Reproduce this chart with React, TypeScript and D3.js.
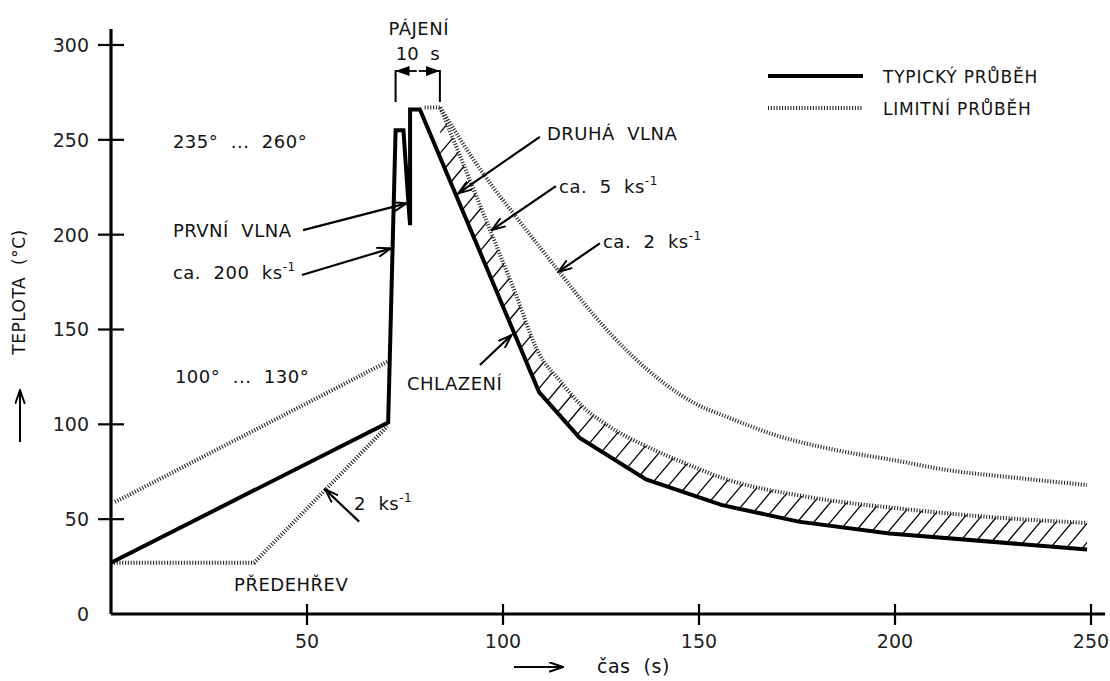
import * as d3 from "d3";

const W = 1110,
  H = 681;

// [time s, temperature °C]
const typical: [number, number][] = [
  [0, 27], [70.7, 101], [72.6, 255], [74.6, 255], [76.1, 210], [76.3, 205],
  [76.3, 266], [78.8, 266], [109.2, 117], [119.5, 93], [136.5, 71],
  [155.7, 57.5], [175.4, 48.7], [198.6, 42.5], [249, 34],
];
const coolingStart = 7; // index where the cooling part begins

const limitPreheatUpper: [number, number][] = [[1, 59], [70.5, 133]];
const limitPreheatLower: [number, number][] = [[0, 27], [36.5, 27], [70.5, 99]];
const limitTop: [number, number][] = [[80, 267], [84, 267]];
const limitCoolInner: [number, number][] = [
  [84, 267], [96, 206], [103, 170], [109, 138], [114.5, 123], [120, 110],
  [127, 99], [137, 88], [147, 79], [157, 71], [177, 62], [204, 55],
  [225, 51], [249, 48],
];
const limitCoolOuter: [number, number][] = [
  [84, 267], [95, 232], [105, 205], [114.5, 180], [123, 158], [133, 136],
  [149, 111], [157, 104], [170, 94], [186, 86], [200, 81], [213, 76],
  [230, 72], [249, 68],
];

const xTicks = [50, 100, 150, 200, 250];
const yTicks = [0, 50, 100, 150, 200, 250, 300];

// annotations in data units
const notes = [
  { text: "235°  ...  260°", t: 15.8, v: 245.6 },
  { text: "PRVNÍ  VLNA", t: 15.8, v: 198.7 },
  { text: "ca.  200  ks", sup: "-1", t: 15.8, v: 176.6 },
  { text: "100°  ...  130°", t: 16.3, v: 121.8 },
  { text: "PŘEDEHŘEV", t: 31.4, v: 12.1 },
  { text: "2  ks", sup: "-1", t: 62, v: 54.8 },
  { text: "CHLAZENÍ", t: 75.5, v: 118.1 },
  { text: "DRUHÁ  VLNA", t: 111.2, v: 249.9 },
  { text: "ca.  5  ks", sup: "-1", t: 114.3, v: 221.9 },
  { text: "ca.  2  ks", sup: "-1", t: 125.5, v: 193 },
];
const arrows: [number, number, number, number][] = [
  [49.0, 202.4, 75.4, 216.5],
  [48.7, 178.7, 71.4, 192.8],
  [109.4, 251.6, 88.6, 221.8],
  [113.5, 225.6, 97.1, 202.4],
  [124.7, 195.4, 114.1, 180.4],
  [94.1, 131.3, 102.2, 147.1],
  [63.3, 48.7, 54.6, 65.7],
];
const solderFrom = 72.6,
  solderTo = 83.9;

const font = "'DejaVu Sans', sans-serif";

export default function App() {
  const x = d3.scaleLinear().domain([0, 250]).range([111, 1091]);
  const y = d3.scaleLinear().domain([0, 300]).range([614, 45]);
  const straight = d3
    .line<[number, number]>()
    .x((d) => x(d[0]))
    .y((d) => y(d[1]));
  const smooth = d3
    .line<[number, number]>()
    .x((d) => x(d[0]))
    .y((d) => y(d[1]))
    .curve(d3.curveMonotoneX);

  // hatching between typical cooling and inner limit
  const cool = typical.slice(coolingStart).map(([t, v]) => [x(t), y(v)]);
  const hatches: number[][] = [];
  const step = 15,
    ang = (50 * Math.PI) / 180,
    len = 60;
  let carry = 4;
  for (let i = 0; i < cool.length - 1; i++) {
    const [x0, y0] = cool[i],
      [x1, y1] = cool[i + 1];
    const seg = Math.hypot(x1 - x0, y1 - y0);
    let s = carry;
    while (s < seg) {
      const f = s / seg;
      const px = x0 + f * (x1 - x0),
        py = y0 + f * (y1 - y0);
      hatches.push([px, py, px + len * Math.cos(ang), py - len * Math.sin(ang)]);
      s += step;
    }
    carry = s - seg;
  }
  const last = limitCoolInner[limitCoolInner.length - 1];
  const underInner =
    smooth(limitCoolInner) +
    `L${x(last[0])},${y(0)}L${x(limitCoolInner[0][0])},${y(0)}Z`;
  const coolPart = typical.slice(coolingStart);
  const underSolid =
    straight(coolPart) +
    `L${x(coolPart[coolPart.length - 1][0]) + 5},${y(0)}L${x(coolPart[0][0]) - 5},${y(0)}Z`;

  const dotted = {
    fill: "none",
    stroke: "#2a2a2a",
    strokeWidth: 4,
    strokeDasharray: "1.1 1.7",
  };

  const bx0 = x(solderFrom),
    bx1 = x(solderTo),
    bmid = (bx0 + bx1) / 2;

  return (
    <svg
      width={W}
      height={H}
      style={{ position: "absolute", left: 0, top: 0, background: "#fff" }}
      fontFamily={font}
    >
      <defs>
        <marker
          id="open"
          viewBox="0 0 14 10"
          refX={13}
          refY={5}
          markerWidth={15}
          markerHeight={11}
          orient="auto"
          markerUnits="userSpaceOnUse"
        >
          <path d="M0,0.5 L13,5 L0,9.5" fill="none" stroke="#000" strokeWidth={1.8} />
        </marker>
        <marker
          id="solid"
          viewBox="0 0 14 10"
          refX={14}
          refY={5}
          markerWidth={14}
          markerHeight={10}
          orient="auto"
          markerUnits="userSpaceOnUse"
        >
          <path d="M0,0 L14,5 L0,10 Z" fill="#000" />
        </marker>
        <mask id="band" maskUnits="userSpaceOnUse" x={0} y={0} width={W} height={H}>
          <rect width={W} height={H} fill="#000" />
          <path d={underInner} fill="#fff" />
          <path d={underSolid} fill="#000" />
        </mask>
      </defs>

      {/* hatching */}
      <g mask="url(#band)" stroke="#000" strokeWidth={1.3}>
        {hatches.map((h, i) => (
          <line key={i} x1={h[0]} y1={h[1]} x2={h[2]} y2={h[3]} />
        ))}
      </g>

      {/* axes */}
      <line x1={x(0)} y1={y(0)} x2={1105} y2={y(0)} stroke="#000" strokeWidth={3} />
      <line x1={x(0)} y1={y(0)} x2={x(0)} y2={29} stroke="#000" strokeWidth={3.2} />
      {xTicks.map((t) => (
        <g key={t}>
          <line x1={x(t)} x2={x(t)} y1={y(0) - 10} y2={y(0) + 11} stroke="#000" strokeWidth={2.2} />
          <text x={x(t)} y={y(0) + 34} fontSize={19} textAnchor="middle" fill="#222">
            {t}
          </text>
        </g>
      ))}
      {yTicks.map((v) => (
        <g key={v}>
          {v > 0 && (
            <line x1={x(0) - 13} x2={x(0) + 13} y1={y(v)} y2={y(v)} stroke="#000" strokeWidth={2.2} />
          )}
          <text x={89} y={y(v)} dy="0.36em" fontSize={19} textAnchor="end" fill="#222">
            {v}
          </text>
        </g>
      ))}

      {/* axis titles */}
      <text
        transform="translate(25,292) rotate(-90)"
        fontSize={17}
        textAnchor="middle"
        letterSpacing={0.5}
        style={{ whiteSpace: "pre" }}
        fill="#111"
      >
        {"TEPLOTA  (°C)"}
      </text>
      <line x1={20} y1={442} x2={20} y2={390} stroke="#000" strokeWidth={2} markerEnd="url(#open)" />
      <line x1={514} y1={667} x2={563} y2={667} stroke="#000" strokeWidth={2} markerEnd="url(#open)" />
      <text x={597} y={673} fontSize={19} letterSpacing={0.5} style={{ whiteSpace: "pre" }} fill="#111">
        {"čas  (s)"}
      </text>

      {/* limit curves */}
      <path d={straight(limitPreheatUpper)!} {...dotted} />
      <path d={straight(limitPreheatLower)!} {...dotted} />
      <path d={straight(limitTop)!} {...dotted} />
      <path d={smooth(limitCoolInner)!} {...dotted} />
      <path d={smooth(limitCoolOuter)!} {...dotted} />

      {/* typical curve */}
      <path
        d={straight(typical)!}
        fill="none"
        stroke="#000"
        strokeWidth={4}
        strokeLinejoin="miter"
        strokeMiterlimit={6}
      />

      {/* soldering time bracket */}
      <line x1={bx0} x2={bx0} y1={70} y2={102} stroke="#000" strokeWidth={2} />
      <line x1={bx1} x2={bx1} y1={70} y2={102} stroke="#000" strokeWidth={2} />
      <line x1={bmid - 1} x2={bx0} y1={71} y2={71} stroke="#000" strokeWidth={1.8} markerEnd="url(#solid)" />
      <line x1={bmid + 1} x2={bx1} y1={71} y2={71} stroke="#000" strokeWidth={1.8} markerEnd="url(#solid)" />
      <text x={bmid + 1} y={35} fontSize={18} textAnchor="middle" letterSpacing={0.5} fill="#111">
        PÁJENÍ
      </text>
      <text x={bmid} y={60} fontSize={18} textAnchor="middle" style={{ whiteSpace: "pre" }} fill="#111">
        {"10  s"}
      </text>

      {/* annotation arrows */}
      {arrows.map((a, i) => (
        <line
          key={i}
          x1={x(a[0])}
          y1={y(a[1])}
          x2={x(a[2])}
          y2={y(a[3])}
          stroke="#000"
          strokeWidth={2.2}
          markerEnd="url(#open)"
        />
      ))}

      {/* annotation texts */}
      {notes.map((n, i) => (
        <text
          key={i}
          x={x(n.t)}
          y={y(n.v)}
          fontSize={18}
          letterSpacing={0.5}
          style={{ whiteSpace: "pre" }}
          fill="#111"
        >
          {n.text}
          {n.sup && (
            <tspan fontSize={12} dy={-8}>
              {n.sup}
            </tspan>
          )}
        </text>
      ))}

      {/* legend */}
      <line x1={768} x2={863} y1={76} y2={76} stroke="#000" strokeWidth={4} />
      <text x={883} y={83} fontSize={17} letterSpacing={0.8} fill="#111">
        TYPICKÝ PRŮBĚH
      </text>
      <line x1={768} x2={863} y1={108} y2={108} {...dotted} />
      <text x={883} y={115} fontSize={17} letterSpacing={0.8} fill="#111">
        LIMITNÍ PRŮBĚH
      </text>
    </svg>
  );
}
